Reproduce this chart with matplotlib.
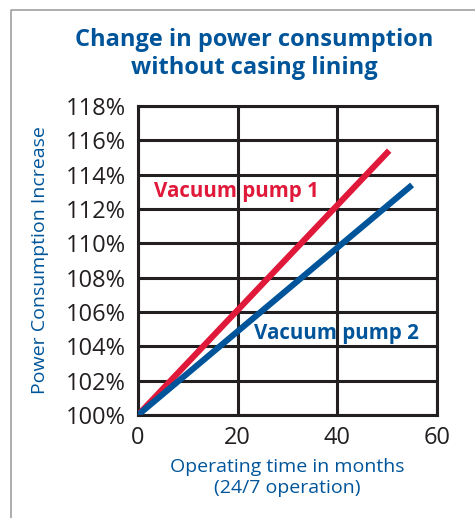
import matplotlib
matplotlib.use("Agg")
import matplotlib.pyplot as plt
from matplotlib.lines import Line2D

# Data
months = [0, 50.4]
pump1 = [100, 115.4]
months2 = [0, 55]
pump2 = [100, 113.4]
xticks = [0, 20, 40, 60]
yticks = [100, 102, 104, 106, 108, 110, 112, 114, 116, 118]
ytick_labels = [f"{v}%" for v in yticks]
title = "Change in power consumption\nwithout casing lining"
xlabel = "Operating time in months\n(24/7 operation)"
ylabel = "Power Consumption Increase"
label1 = "Vacuum pump 1"
label2 = "Vacuum pump 2"

RED = "#E0193A"
BLUE = "#00559A"
DARK = "#231F20"

plt.rcParams['font.family'] = ['Open Sans', 'DejaVu Sans']

W, H = 475, 518
fig = plt.figure(figsize=(W / 100, H / 100), dpi=100)
fig.patch.set_facecolor("white")

# frame border (left and top)
fig.add_artist(Line2D([11 / W, 11 / W, 1], [0, 1 - 10 / H, 1 - 10 / H],
                      transform=fig.transFigure, color="#A0A0A0", lw=1.2))

ax = fig.add_axes([138 / W, 1 - 415 / H, (437 - 138) / W, (415 - 106) / H])
ax.set_xlim(0, 60)
ax.set_ylim(100, 118)
ax.set_xticks(xticks)
ax.set_yticks(yticks)
ax.set_yticklabels(ytick_labels)
ax.grid(True, color=DARK, lw=2.2)
ax.set_axisbelow(True)
for s in ax.spines.values():
    s.set_color(DARK)
    s.set_linewidth(2.2)
ax.tick_params(length=0, labelsize=17, labelcolor=DARK)
ax.tick_params(axis='y', pad=9)
ax.tick_params(axis='x', pad=8)

ax.plot(months, pump1, color=RED, lw=4.4, solid_capstyle='butt', zorder=3)
ax.plot(months2, pump2, color=BLUE, lw=4.4, solid_capstyle='butt', zorder=4)

ax.text(3.3, 113.0, label1, color=RED, fontsize=14.8, fontweight='bold', va='center', ha='left')
ax.text(23.2, 104.75, label2, color=BLUE, fontsize=14.8, fontweight='bold', va='center', ha='left')

ax.set_xlabel(xlabel, color=BLUE, fontsize=14, labelpad=6, linespacing=1.15)
ax.set_ylabel(ylabel, color=BLUE, fontsize=14, labelpad=12)

fig.text(254 / W, 1 - 54 / H, title, color=BLUE, fontsize=17, fontweight='bold',
         ha='center', va='center', linespacing=1.2)

fig.savefig("out.png", dpi=100)
